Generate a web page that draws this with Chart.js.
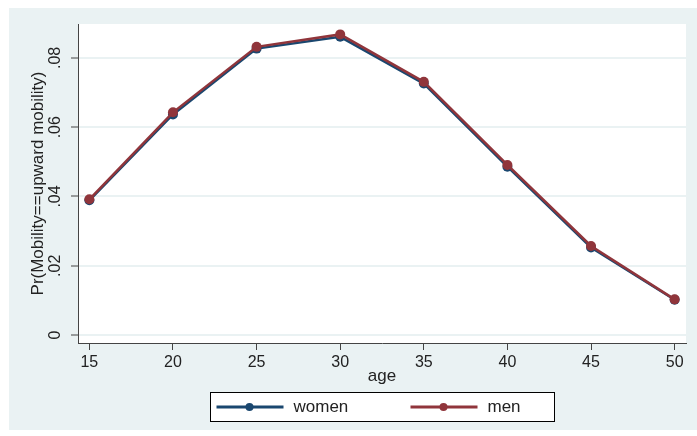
<!DOCTYPE html>
<html>
<head>
<meta charset="utf-8">
<script src="https://cdn.jsdelivr.net/npm/chart.js@4.4.1/dist/chart.umd.min.js"></script>
<style>
    html, body { margin: 0; padding: 0; background: #fff; }
    #wrap { width: 697px; height: 436px; }
</style>
</head>
<body>
<div id="wrap"><canvas id="myChart" width="697" height="436"></canvas></div>
<script>
// values
const ages = [15, 20, 25, 30, 35, 40, 45, 50];
const women = [0.0389, 0.0637, 0.0827, 0.0861, 0.0726, 0.0486, 0.0253, 0.0102];
const men = [0.0392, 0.0643, 0.0832, 0.0868, 0.0731, 0.0491, 0.0257, 0.0103];
const xTicks = [15, 20, 25, 30, 35, 40, 45, 50];
const yTicks = [0, 0.02, 0.04, 0.06, 0.08];
const seriesNames = ['women', 'men'];

const navy = '#1a476f';
const maroon = '#90353b';
const bgColor = '#eaf2f3';
const textColor = '#222';
const fontFamily = '"Liberation Sans", Arial, sans-serif';

// stata-like backgrounds
const bgPlugin = {
    id: 'bg',
    beforeDraw(chart) {
        const { ctx, chartArea: a } = chart;
        ctx.save();
        ctx.fillStyle = bgColor;
        ctx.fillRect(9, 8, chart.width - 9, 422);
        ctx.fillStyle = '#fff';
        ctx.fillRect(a.left, a.top, a.right - a.left, a.bottom - a.top);
        ctx.restore();
    }
};

// legend box under the axis title
const legendPlugin = {
    id: 'boxLegend',
    afterDraw(chart) {
        const { ctx, chartArea: a } = chart;
        const cx = (a.left + a.right) / 2;
        const w = 344, h = 29, top = 392;
        const left = Math.round(cx - w / 2) + 0.5;
        ctx.save();
        ctx.fillStyle = '#fff';
        ctx.fillRect(left, top + 0.5, w, h);
        ctx.strokeStyle = '#000';
        ctx.lineWidth = 1;
        ctx.strokeRect(left, top + 0.5, w, h);
        const cy = top + h / 2 + 0.5;
        const items = [
            { name: seriesNames[0], color: navy, x: left + 6 },
            { name: seriesNames[1], color: maroon, x: left + 200 }
        ];
        items.forEach(it => {
            ctx.strokeStyle = it.color;
            ctx.lineWidth = 3;
            ctx.beginPath();
            ctx.moveTo(it.x, cy);
            ctx.lineTo(it.x + 67, cy);
            ctx.stroke();
            ctx.fillStyle = it.color;
            ctx.beginPath();
            ctx.arc(it.x + 33, cy, 4, 0, Math.PI * 2);
            ctx.fill();
            ctx.fillStyle = textColor;
            ctx.font = '17px ' + fontFamily;
            ctx.textBaseline = 'middle';
            ctx.textAlign = 'left';
            ctx.fillText(it.name, it.x + 77, cy);
        });
        ctx.restore();
    }
};

function points(vals) {
    return ages.map((a, i) => ({ x: a, y: vals[i] }));
}

function yLabel(v) {
    if (v === 0) return '0';
    return v.toFixed(2).replace(/^0/, '');
}

const ctx = document.getElementById('myChart').getContext('2d');
new Chart(ctx, {
    type: 'line',
    data: {
        datasets: [
            {
                label: seriesNames[0],
                data: points(women),
                borderColor: navy,
                backgroundColor: navy,
                borderWidth: 2.5,
                pointRadius: 5,
                pointBorderWidth: 0,
                tension: 0,
                order: 1
            },
            {
                label: seriesNames[1],
                data: points(men),
                borderColor: maroon,
                backgroundColor: maroon,
                borderWidth: 2.5,
                pointRadius: 5,
                pointBorderWidth: 0,
                tension: 0,
                order: 0
            }
        ]
    },
    options: {
        responsive: false,
        animation: false,
        layout: { padding: { top: 24, right: 11, bottom: 43, left: 0 } },
        plugins: {
            legend: { display: false },
            tooltip: { enabled: false }
        },
        scales: {
            x: {
                type: 'linear',
                min: 14.32,
                max: 50.68,
                afterBuildTicks: s => { s.ticks = xTicks.map(v => ({ value: v })); },
                afterFit: s => { s.height = 50; },
                ticks: {
                    color: textColor,
                    font: { size: 16, family: fontFamily },
                    padding: 3,
                    maxRotation: 0,
                    autoSkip: false
                },
                grid: {
                    drawOnChartArea: false,
                    tickLength: 7,
                    tickColor: '#444',
                    tickWidth: 1
                },
                border: { color: '#444', width: 1 },
                title: {
                    display: true,
                    text: 'age',
                    color: textColor,
                    font: { size: 17, family: fontFamily },
                    padding: { top: 0, bottom: 6 }
                }
            },
            y: {
                type: 'linear',
                min: -0.0023,
                max: 0.0898,
                afterBuildTicks: s => { s.ticks = yTicks.map(v => ({ value: v })); },
                afterFit: s => { s.width = 78; },
                ticks: {
                    color: textColor,
                    font: { size: 16, family: fontFamily },
                    minRotation: 90,
                    maxRotation: 90,
                    crossAlign: 'center',
                    padding: 4,
                    callback: v => yLabel(v)
                },
                grid: {
                    color: bgColor,
                    lineWidth: 2,
                    tickLength: 7,
                    tickColor: '#444',
                    tickWidth: 1
                },
                border: { color: '#444', width: 1 },
                title: {
                    display: true,
                    text: 'Pr(Mobility==upward mobility)',
                    color: textColor,
                    font: { size: 17, family: fontFamily },
                    padding: { top: 28, bottom: 0 }
                }
            }
        }
    },
    plugins: [bgPlugin, legendPlugin]
});
</script>
</body>
</html>
